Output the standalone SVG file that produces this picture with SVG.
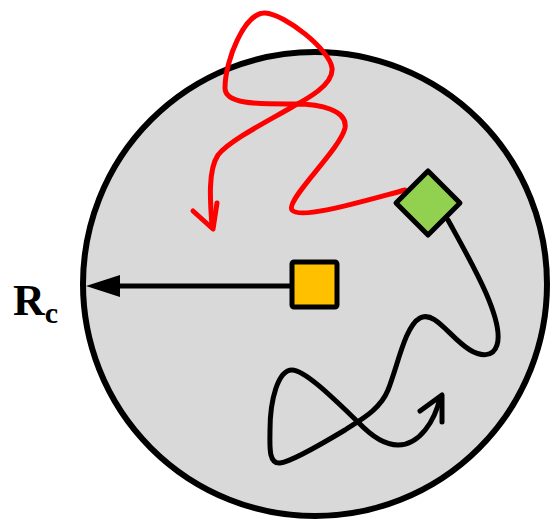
<svg xmlns="http://www.w3.org/2000/svg" width="552" height="524" viewBox="0 0 552 524">
<style>
.ln{fill:none;stroke-width:5;stroke-linecap:round;stroke-linejoin:round}
.blk{stroke:#000}
.red{stroke:#FF0000}
.lbl{font-family:"Liberation Serif",serif;font-weight:bold;fill:#000}
</style>
<g id="cell">
<circle cx="315" cy="284" r="232" fill="#D9D9D9" stroke="#000" stroke-width="6"/>
</g>
<g id="connectors">
<line class="ln blk" x1="290" y1="286" x2="100" y2="286" stroke-linecap="butt"/>
<path d="M86 286 L120 275 L120 297 Z" fill="#000"/>
<path class="ln red" d="M405 190 C360 202,300 220,292 210 C285 200,340 150,345 128 C348 110,320 104,295 104 C260 104,225 105,225 88 C225 60,245 12,265 13 C285 14,330 50,332 68 C334 85,305 100,292 107 C270 120,230 140,218 155 C208 170,210 200,212 226"/>
<path class="ln red" d="M193 211 L213 229 L217 203"/>
<path class="ln blk" d="M448 220 C470 260,505 320,497 345 C493 358,480 356,470 350 C450 338,435 310,420 318 C405 326,398 365,388 390 C380 410,360 420,345 430 C320 445,290 462,280 463 C268 464,270 445,270 430 C270 400,278 370,292 370 C305 370,335 400,358 422 C375 440,388 445,398 445 C420 445,435 420,440 398"/>
<path class="ln blk" d="M420 411 L442 395 L442 422"/>
</g>
<g id="square">
<rect x="292" y="262" width="45" height="45" rx="2" fill="#FFC000" stroke="#000" stroke-width="5"/>
</g>
<g id="diamond">
<path d="M428 171 L460 203 L428 235 L396 203 Z" fill="#92D050" stroke="#000" stroke-width="5" stroke-linejoin="round"/>
</g>
<g id="label">
<text class="lbl" x="13" y="315" font-size="44">R<tspan font-size="30" dy="8">c</tspan></text>
</g>
</svg>
